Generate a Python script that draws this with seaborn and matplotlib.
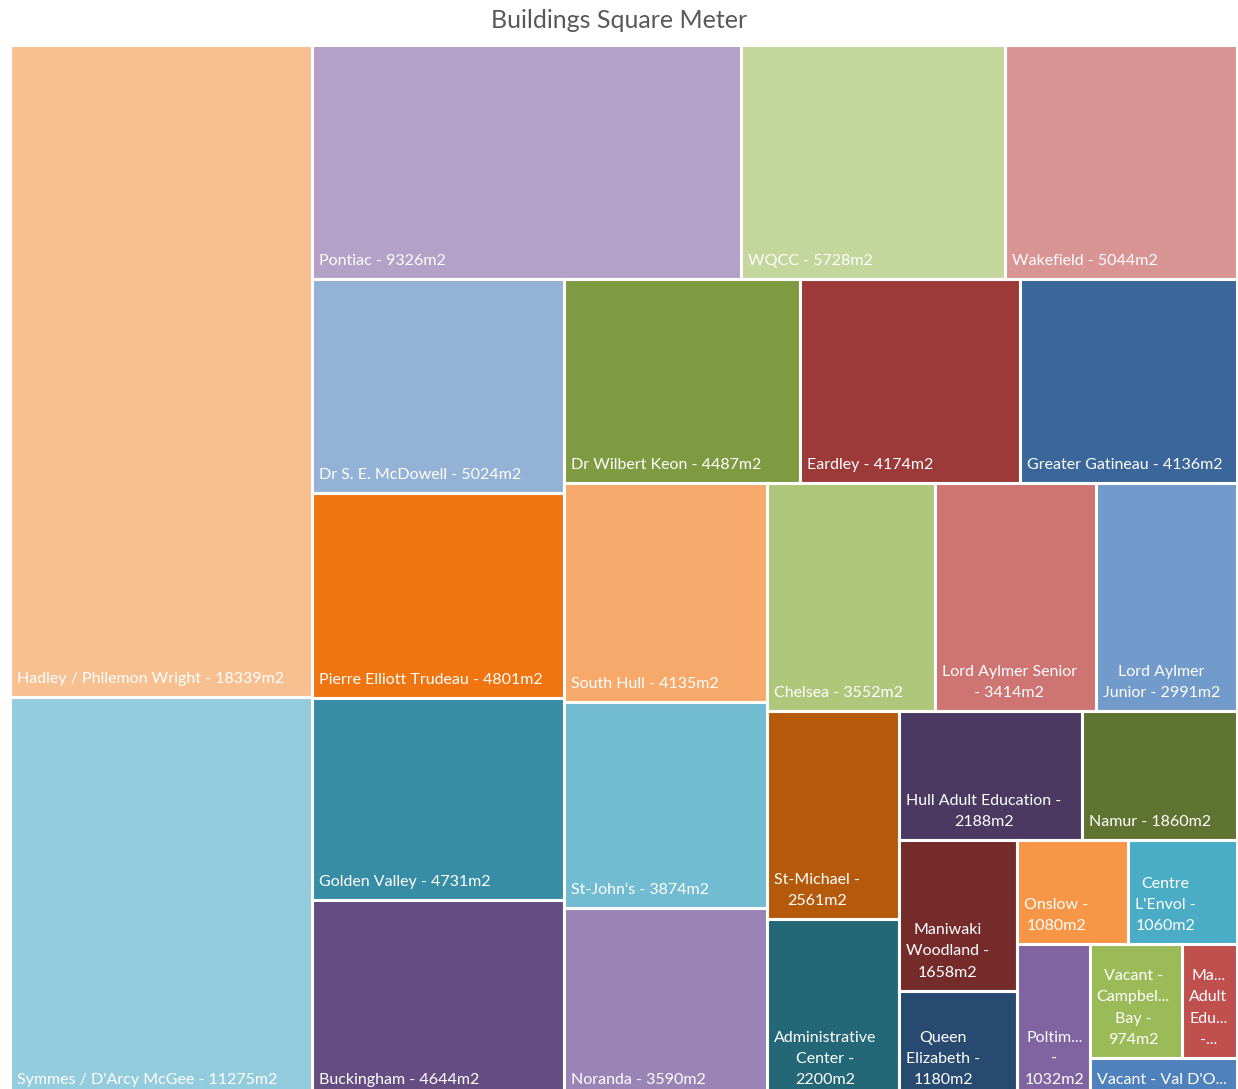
import matplotlib
matplotlib.use("Agg")
import matplotlib.pyplot as plt
from matplotlib.patches import Rectangle
import seaborn as sns

# building areas (m2), sorted largest first as in the chart
buildings = ["Hadley / Philemon Wright", "Symmes / D'Arcy McGee", "Pontiac", "WQCC",
             "Wakefield", "Dr S. E. McDowell", "Pierre Elliott Trudeau", "Golden Valley",
             "Buckingham", "Dr Wilbert Keon", "Eardley", "Greater Gatineau", "South Hull",
             "St-John's", "Noranda", "Chelsea", "Lord Aylmer Senior", "Lord Aylmer Junior",
             "St-Michael", "Administrative Center", "Hull Adult Education", "Namur",
             "Maniwaki Woodland", "Queen Elizabeth", "Onslow", "Centre L'Envol",
             "Poltimore", "Vacant - Campbell's Bay", "Maniwaki Adult Education",
             "Vacant - Val D'Or"]
areas = [18339, 11275, 9326, 5728, 5044, 5024, 4801, 4731, 4644, 4487, 4174, 4136,
         4135, 3874, 3590, 3552, 3414, 2991, 2561, 2200, 2188, 1860, 1658, 1180,
         1080, 1060, 1032, 974, 577, 553]

# labels as Excel shows them (wrapped / truncated in the small tiles)
labels = ["Hadley / Philemon Wright - 18339m2", "Symmes / D'Arcy McGee - 11275m2",
          "Pontiac - 9326m2", "WQCC - 5728m2", "Wakefield - 5044m2",
          "Dr S. E. McDowell - 5024m2", "Pierre Elliott Trudeau - 4801m2",
          "Golden Valley - 4731m2", "Buckingham - 4644m2", "Dr Wilbert Keon - 4487m2",
          "Eardley - 4174m2", "Greater Gatineau - 4136m2", "South Hull - 4135m2",
          "St-John's - 3874m2", "Noranda - 3590m2", "Chelsea - 3552m2",
          "Lord Aylmer Senior\n- 3414m2", "Lord Aylmer\nJunior - 2991m2",
          "St-Michael -\n2561m2", "Administrative\nCenter -\n2200m2",
          "Hull Adult Education -\n2188m2", "Namur - 1860m2",
          "Maniwaki\nWoodland -\n1658m2", "Queen\nElizabeth -\n1180m2",
          "Onslow -\n1080m2", "Centre\nL'Envol -\n1060m2", "Poltim...\n-\n1032m2",
          "Vacant -\nCampbel...\nBay -\n974m2", "Ma...\nAdult\nEdu...\n-...",
          "Vacant - Val D'O..."]

tile_colors = ["#F8BF91", "#93CCDC", "#B3A1C8", "#C3D69C", "#D99593", "#94B2D6",
               "#F07511", "#368DA5", "#654D82", "#7F9B42", "#9C3A39", "#3A6699",
               "#F6A96B", "#72BCD1", "#9A84B6", "#AEC77B", "#CE7472", "#729ACB",
               "#B55A0A", "#246877", "#4B3961", "#5F7431", "#742B2A", "#284A70",
               "#F79646", "#4BACC6", "#8064A2", "#9BBB59", "#C0504D", "#4F81BD"]

# how many tiles go into each strip of the squarified layout
strip_sizes = [2, 3, 4, 3, 3, 3, 2, 2, 2, 2, 1, 2, 1]

PLOT_W = 1227
PLOT_H = 1053


def squarify_strips(values, width, height, strips):
    scale = width * height / float(sum(values))
    x, y, w, h = 0.0, 0.0, float(width), float(height)
    rects = []
    i = 0
    for n in strips:
        chunk = values[i:i + n]
        s = sum(chunk) * scale
        if w >= h:
            # strip along the left edge
            cw = s / h
            cy = y
            for v in chunk:
                ch = v * scale / cw
                rects.append((x, cy, cw, ch))
                cy += ch
            x += cw
            w -= cw
        else:
            # strip along the top edge
            rh = s / w
            cx = x
            for v in chunk:
                rw = v * scale / rh
                rects.append((cx, y, rw, rh))
                cx += rw
            y += rh
            h -= rh
        i += n
    return rects


rects = squarify_strips(areas, PLOT_W, PLOT_H, strip_sizes)

sns.set_theme(style="white")
plt.rcParams['font.family'] = ['Lato', 'DejaVu Sans']

fig = plt.figure(figsize=(12.38, 10.89), dpi=100)
ax = fig.add_axes([10 / 1238, -9 / 1089, PLOT_W / 1238, PLOT_H / 1089])

for (x, y, w, h), col, lab in zip(rects, tile_colors, labels):
    ax.add_patch(Rectangle((x, y), w, h, facecolor=col, edgecolor='white', linewidth=2.2))
    ax.text(x + 7, y + h - 11, lab, ha='left', va='bottom', multialignment='center',
            color='white', fontsize=11.5, linespacing=1.65)

ax.set_xlim(0, PLOT_W)
ax.set_ylim(PLOT_H, 0)
ax.axis('off')

fig.text(0.5, 1 - 20 / 1089, "Buildings Square Meter", ha='center', va='center',
         fontsize=18, color='#595959')

fig.savefig('out.png', dpi=100)
